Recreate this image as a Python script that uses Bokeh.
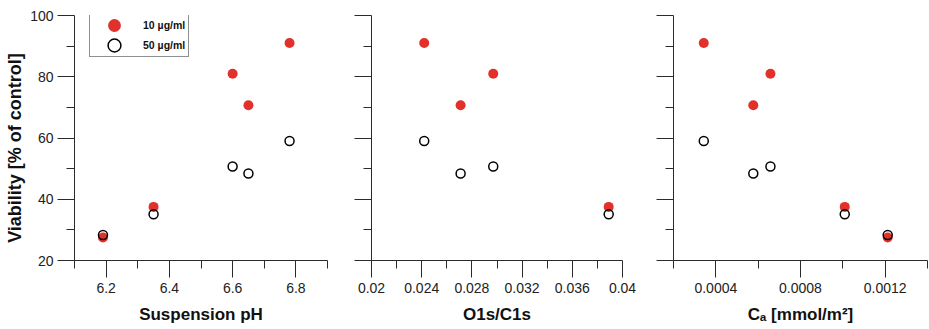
from bokeh.plotting import figure
from bokeh.layouts import row
from bokeh.models import (ColumnDataSource, Range1d, FixedTicker, CustomJSTickFormatter,
                          Legend, LegendItem)
from bokeh.embed import file_html
from bokeh.resources import INLINE

# ---------------- data ----------------
series_labels = ["10 µg/ml", "50 µg/ml"]

ph = [6.19, 6.35, 6.60, 6.65, 6.78]
ph_via10 = [27.5, 37.5, 81.0, 70.7, 91.0]
ph_via50 = [28.3, 35.1, 50.7, 48.4, 59.0]

oc = [0.0242, 0.0271, 0.0297, 0.0389]
oc_via10 = [91.0, 70.7, 81.0, 37.5]
oc_via50 = [59.0, 48.4, 50.7, 35.1]

ca = [0.000343, 0.000577, 0.000658, 0.001009, 0.001212]
ca_via10 = [91.0, 70.7, 81.0, 37.5, 27.5]
ca_via50 = [59.0, 48.4, 50.7, 35.1, 28.3]

y_ticks = [20, 40, 60, 80, 100]
y_tick_labels = ["20", "40", "60", "80", "100"]
y_minor = [30, 50, 70, 90]

ph_ticks = [6.2, 6.4, 6.6, 6.8]
ph_tick_labels = ["6.2", "6.4", "6.6", "6.8"]
ph_minor = [6.1, 6.3, 6.5, 6.7, 6.9]

oc_ticks = [0.02, 0.024, 0.028, 0.032, 0.036, 0.04]
oc_tick_labels = ["0.02", "0.024", "0.028", "0.032", "0.036", "0.04"]
oc_minor = [0.022, 0.026, 0.030, 0.034, 0.038]

ca_ticks = [0.0004, 0.0008, 0.0012]
ca_tick_labels = ["0.0004", "0.0008", "0.0012"]
ca_minor = [0.0002, 0.0006, 0.0010, 0.0014]

x_titles = ["Suspension pH", "O1s/C1s", "Cₐ [mmol/m²]"]
y_title = "Viability [% of control]"

# ---------------- style ----------------
RED = "#E2302B"
AX = "#2b2b2b"
FONT = "Liberation Sans"
H = 329


def fmt(tick_values, tick_texts):
    return CustomJSTickFormatter(args=dict(tv=tick_values, tt=tick_texts), code="""
        let best = 0, bd = Infinity;
        for (let i = 0; i < tv.length; i++) {
            const d = Math.abs(tv[i] - tick);
            if (d < bd) { bd = d; best = i; }
        }
        return tt[best];
    """)


def style_axis(ax, standoff):
    ax.axis_line_color = AX
    ax.axis_line_width = 1
    ax.major_tick_line_color = AX
    ax.minor_tick_line_color = AX
    ax.major_tick_out = 17
    ax.major_tick_in = 0
    ax.minor_tick_out = 8
    ax.minor_tick_in = 0
    ax.major_label_standoff = standoff
    ax.major_label_text_font = FONT
    ax.major_label_text_font_size = "14px"
    ax.major_label_text_color = "#222222"
    ax.axis_label_text_font = FONT
    ax.axis_label_text_font_size = "17px"
    ax.axis_label_text_font_style = "bold"
    ax.axis_label_text_color = "#111111"


def make_panel(xs, v10, v50, xrange, xt, xtl, xm, xlabel, width, left, right, top, frame_h, show_ylabels):
    p = figure(width=width, height=H, x_range=Range1d(*xrange), y_range=Range1d(20, 100),
               output_backend="svg", toolbar_location=None,
               min_border_left=left, min_border_right=right, min_border_top=top,
               min_border_bottom=H - top - frame_h)
    p.outline_line_color = None
    p.grid.visible = False
    p.background_fill_color = "white"
    p.border_fill_color = "white"

    s10 = ColumnDataSource(dict(x=xs, y=v10))
    s50 = ColumnDataSource(dict(x=xs, y=v50))
    r10 = p.ellipse(x="x", y="y", width=10, height=10, width_units="screen", height_units="screen",
                    fill_color=RED, line_color=None, source=s10)
    r50 = p.ellipse(x="x", y="y", width=9, height=9, width_units="screen", height_units="screen",
                    fill_color=None, line_color="black", line_width=1.5, source=s50)

    p.xaxis.ticker = FixedTicker(ticks=xt, minor_ticks=xm)
    p.xaxis.formatter = fmt(xt, xtl)
    p.xaxis.axis_label = xlabel
    p.xaxis.axis_label_standoff = 9
    style_axis(p.xaxis[0], 5)

    p.yaxis.ticker = FixedTicker(ticks=y_ticks, minor_ticks=y_minor)
    p.yaxis.formatter = fmt(y_ticks, y_tick_labels if show_ylabels else [""] * len(y_ticks))
    style_axis(p.yaxis[0], 4)
    return p, r10, r50


p1, a10, a50 = make_panel(ph, ph_via10, ph_via50, (6.1, 6.9), ph_ticks, ph_tick_labels, ph_minor,
                          x_titles[0], 340, 74, 13, 13, 247, True)
p2, _, _ = make_panel(oc, oc_via10, oc_via50, (0.02, 0.04), oc_ticks, oc_tick_labels, oc_minor,
                      x_titles[1], 300, 31, 18, 13, 247, False)
p3, _, _ = make_panel(ca, ca_via10, ca_via50, (0.0002, 0.0014), ca_ticks, ca_tick_labels, ca_minor,
                      x_titles[2], 289, 33, 2, 15, 245, False)

# y-axis title of the first panel (trailing no-break spaces shift it down a little, like the original)
p1.yaxis.axis_label = y_title + "\u00a0" * 4
p1.yaxis.axis_label_standoff = 2
p1.yaxis.axis_label_text_font_size = "18px"

legend = Legend(items=[LegendItem(label=series_labels[0], renderers=[a10]),
                       LegendItem(label=series_labels[1], renderers=[a50])],
                location=(15, 203), orientation="vertical",
                glyph_width=42, glyph_height=16, label_height=16, label_standoff=8,
                spacing=4, padding=3, margin=0,
                border_line_color="#222222", border_line_width=1,
                background_fill_color="white", background_fill_alpha=1,
                label_text_font=FONT, label_text_font_size="10.5px", label_text_font_style="bold",
                label_text_color="#111111")
p1.add_layout(legend)

layout = row(p1, p2, p3)
open("out.html", "w").write(file_html(layout, INLINE))
